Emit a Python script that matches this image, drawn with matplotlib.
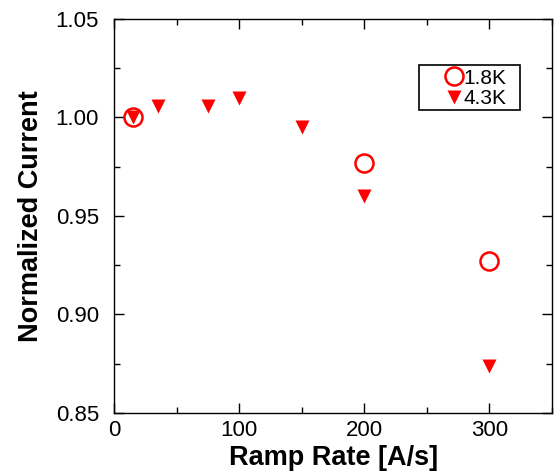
import matplotlib
matplotlib.use("Agg")
import matplotlib.pyplot as plt
from matplotlib.ticker import MultipleLocator
from matplotlib.patches import Rectangle

plt.rcParams['font.family'] = ['Liberation Sans', 'DejaVu Sans']

# 1.8K data
rate_18 = [15, 200, 300]
cur_18 = [1.000, 0.977, 0.927]

# 4.3K data
rate_43 = [15, 35, 75, 100, 150, 200, 300]
cur_43 = [1.000, 1.006, 1.006, 1.010, 0.995, 0.960, 0.874]

fig = plt.figure(figsize=(5.57, 4.72), dpi=100)
ax = fig.add_axes([0.205, 0.125, 0.786, 0.835])

ax.plot(rate_18, cur_18, 'o', ms=13, mfc='none', mec='red', mew=1.8, label='1.8K')
ax.plot(rate_43, cur_43, 'v', ms=10, color='red', mec='none', label='4.3K')

ax.set_xlim(0, 350)
ax.set_ylim(0.85, 1.05)
ax.xaxis.set_major_locator(MultipleLocator(100))
ax.xaxis.set_minor_locator(MultipleLocator(50))
ax.yaxis.set_major_locator(MultipleLocator(0.05))
ax.yaxis.set_minor_locator(MultipleLocator(0.025))
ax.yaxis.set_major_formatter(matplotlib.ticker.FormatStrFormatter('%.2f'))

ax.tick_params(which='both', direction='in', top=True, right=True, labelsize=16, width=1)
ax.tick_params(which='major', length=7)
ax.tick_params(which='minor', length=4)
ax.tick_params(axis='x', pad=5)
ax.tick_params(axis='y', pad=11)
for s in ax.spines.values():
    s.set_linewidth(1)

ax.set_xlabel('Ramp Rate [A/s]', fontsize=19.5, fontweight='bold', labelpad=3)
ax.set_ylabel('Normalized Current', fontsize=19.5, fontweight='bold', labelpad=8)

# legend without its own frame, box drawn separately (wider left margin)
leg = ax.legend(loc='upper left', bbox_to_anchor=(0.743, 0.884), fontsize=15,
                handletextpad=-0.07, handlelength=1.0, borderpad=0.2, labelspacing=0.05,
                borderaxespad=0, frameon=False)
ax.add_patch(Rectangle((0.696, 0.769), 0.231, 0.114, transform=ax.transAxes,
                       fill=False, edgecolor='black', lw=1.2, zorder=4))

fig.savefig('out.png', dpi=100)
